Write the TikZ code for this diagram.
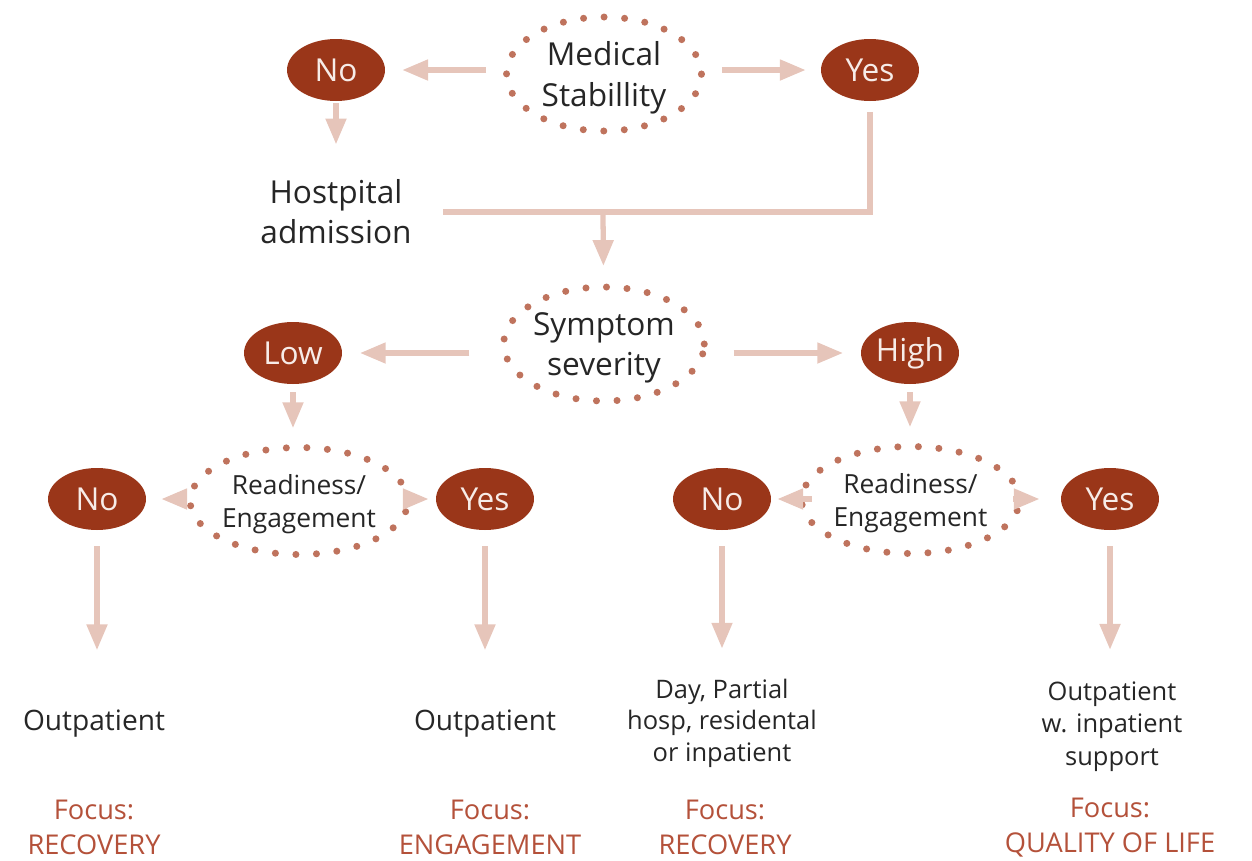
\documentclass[tikz,border=0pt]{standalone}
\usepackage{fontspec}
\setmainfont{Open Sans}
\usepackage{tikz}
\usetikzlibrary{shapes.geometric,arrows.meta}
\definecolor{redfill}{HTML}{9A3619}
\definecolor{choicetext}{HTML}{F7ECE8}
\definecolor{dotc}{HTML}{BF735D}
\definecolor{arrowc}{HTML}{E6C5BA}
\definecolor{focusc}{HTML}{B4513A}
\definecolor{txt}{HTML}{262626}

\begin{document}
\begin{tikzpicture}[x=0.02cm,y=-0.02cm,
		choice/.style={ellipse,fill=redfill,text=choicetext,minimum width=1.96cm,minimum height=1.24cm,inner sep=0pt,font=\fontsize{18}{22}\selectfont},
		ask/.style={ellipse,draw=dotc,line width=4pt,line cap=round,dash pattern=on 0pt off 11.7pt,minimum width=3.9cm,minimum height=2.28cm,inner sep=0pt,outer sep=0pt,text depth=0pt,align=center,text=txt,font=\fontsize{18}{23.2}\selectfont},
		asksmall/.style={ask,minimum width=3.74cm,minimum height=2.14cm,font=\fontsize{15}{19.3}\selectfont},
		place/.style={align=center,text=txt,inner sep=0pt,font=\fontsize{16}{18}\selectfont},
		focus/.style={align=center,text=focusc,inner sep=0pt,font=\fontsize{15.5}{19.8}\selectfont},
		arr/.style={draw=arrowc,line width=3pt,-{Triangle[length=14.7pt,width=11.3pt]}},
		link/.style={draw=arrowc,line width=3pt}]
		\useasboundingbox (0,0) rectangle (1252,860); %画布大小
		% 第一层
		\node[ask] (med) at (604,74) {Medical\\Stabillity};
		\node[choice] (no1) at (336,70) {No};
		\node[choice] (yes1) at (870,70) {Yes};
		\node[place,font=\fontsize{18}{22.7}\selectfont] (hosp) at (336,212) {Hostpital\\admission};
		\coordinate (join) at (603,212); %汇合点
		\coordinate (hend) at (443,212);
		% 第二层
		\node[ask] (sym) at (604,344) {Symptom\\severity};
		\node[choice] (low) at (293,353) {Low};
		\node[choice] (high) at (910,353) {High};
		% 第三层
		\node[asksmall] (rdl) at (299,501) {Readiness/\\Engagement};
		\node[asksmall] (rdr) at (910.5,500) {Readiness/\\Engagement};
		\node[choice] (nol) at (97,499) {No};
		\node[choice] (yesl) at (485,499) {Yes};
		\node[choice] (nor) at (722,499) {No};
		\node[choice] (yesr) at (1110,499) {Yes};
		% 结果
		\node[place] (outa) at (94,724) {Outpatient};
		\node[place] (outb) at (485,724) {Outpatient};
		\node[place,font=\fontsize{14.5}{17.9}\selectfont] (outc) at (722,723) {Day, Partial\\hosp, residental\\or inpatient};
		\node[place,font=\fontsize{14.5}{18.4}\selectfont] (outd) at (1112,726.5) {Outpatient\\w. inpatient\\support};
		\node[focus] (fa) at (94,827.5) {Focus:\\RECOVERY};
		\node[focus] (fb) at (490,827.5) {Focus:\\ENGAGEMENT};
		\node[focus] (fc) at (725,827.5) {Focus:\\RECOVERY};
		\node[focus] (fd) at (1110,827.5) {Focus:\\QUALITY OF LIFE};
		% 箭头
		\draw[arr,shorten <=11.6pt,shorten >=9.6pt] (med.west |- no1) -- (no1);
		\draw[arr,shorten <=11.6pt,shorten >=8.5pt] (med.east |- yes1) -- (yes1);
		\draw[arr,shorten <=1pt,shorten >=20pt] (no1) -- (hosp);
		\draw[link,shorten <=6pt] (yes1.south) |- (hend);
		\draw[arr,shorten >=12pt] (join) -- (sym);
		\draw[arr,shorten <=19.5pt,shorten >=10pt] (sym.west |- low) -- (low);
		\draw[arr,shorten <=16.7pt,shorten >=10pt] (sym.east |- high) -- (high);
		\draw[arr,shorten <=4.5pt,shorten >=11pt] (low) -- (low |- rdl.north);
		\draw[arr,shorten <=4.5pt,shorten >=11pt] (high) -- (high |- rdr.north);
		\draw[arr,shorten <=6.8pt,shorten >=8.5pt] (rdl.west |- nol) -- (nol);
		\draw[arr,shorten <=2.3pt,shorten >=4pt] (rdl.east |- yesl) -- (yesl);
		\draw[arr,shorten <=5.7pt,shorten >=3.4pt] (rdr.west |- nor) -- (nor);
		\draw[arr,shorten <=3.4pt,shorten >=12pt] (rdr.east |- yesr) -- (yesr);
		\draw[arr,shorten <=9pt,shorten >=34pt] (nol) -- (nol |- outa.north);
		\draw[arr,shorten <=9pt,shorten >=34pt] (yesl) -- (yesl |- outb.north);
		\draw[arr,shorten <=9pt,shorten >=17pt] (nor) -- (nor |- outc.north);
		\draw[arr,shorten <=9pt,shorten >=18pt] (yesr) -- (yesr |- outd.north);
	\end{tikzpicture}
\end{document}
